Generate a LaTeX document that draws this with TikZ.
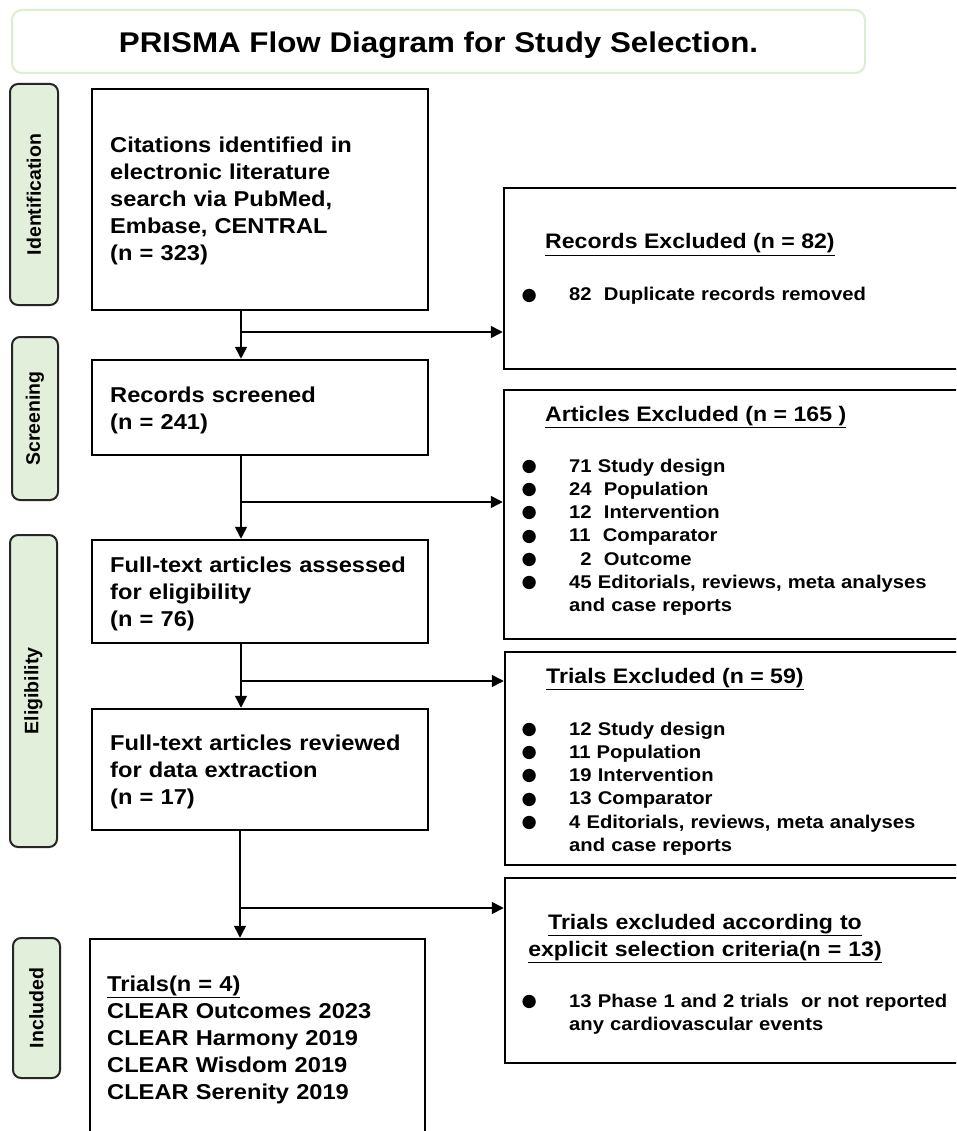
\documentclass[tikz,border=0pt]{standalone}
\usepackage{fontspec}
\setmainfont{Liberation Sans}[FakeStretch=1.1]
\newfontfamily\labfont{Liberation Sans}
\newfontfamily\bulfont{DejaVu Sans}
\usetikzlibrary{arrows.meta,fit}
\definecolor{lgreen}{HTML}{E2EFDA}
\definecolor{tgreen}{HTML}{DDEDD3}
\newcommand\bul{\makebox[46pt][l]{\hspace*{-1.5pt}\smash{\raisebox{0.8pt}{\bulfont\fontsize{17.5}{18}\selectfont ●}}}}
\begin{document}
\begin{tikzpicture}[x=1pt,y=-1pt,
  box/.style={draw, line width=2.5pt, inner sep=0pt},
  sidebox/.style={draw=black!85, line width=2pt, fill=lgreen, rounded corners=8pt, inner sep=0pt},
  titlebox/.style={draw=tgreen, line width=2pt, rounded corners=10pt, inner sep=0pt},
  titletxt/.style={font=\fontsize{28.5}{34}\selectfont\bfseries, inner sep=0pt, anchor=base},
  sidetxt/.style={font=\labfont\fontsize{19.5}{22}\selectfont\bfseries, inner sep=0pt, rotate=90},
  maintxt/.style={font=\fontsize{21.5}{27}\selectfont\bfseries, text width=320pt, align=left, inner sep=0pt, anchor=base west},
  headtxt/.style={font=\fontsize{21}{27}\selectfont\bfseries, inner sep=0pt, anchor=base west},
  lsttxt/.style={font=\fontsize{18.4}{23.3}\selectfont\bfseries, text width=430pt, align=left, inner sep=0pt, anchor=base west},
  arr/.style={line width=1.5pt, -{Triangle[length=12pt,width=12pt]}},
  ln/.style={line width=1.5pt}]
\useasboundingbox (0,0) rectangle (956,1131);
\clip (0,0) rectangle (956,1131);
\fill[white] (0,0) rectangle (956,1131);

% title
\node[titlebox, fit={(12,10) (865,73)}] (title) {};
\node[titletxt] (titlet) at (438.5,53) {PRISMA Flow Diagram for Study Selection.};

% side labels
\node[sidebox, fit={(10,84) (58,305)}] (l1) {};
\node[sidetxt] (l1t) at (l1.center) {Identification};
\node[sidebox, fit={(12,337) (58,500)}] (l2) {};
\node[sidetxt] (l2t) at (l2.center) {Screening};
\node[sidebox, fit={(10,535) (57,847)}] (l3) {};
\node[sidetxt] (l3t) at (l3.center) {Eligibility};
\node[sidebox, fit={(13,938) (60,1078)}] (l4) {};
\node[sidetxt] (l4t) at (l4.center) {Included};

% main boxes
\node[box, fit={(92,89) (428,310)}] (b1) {};
\node[maintxt] (b1t) at (110,153) {Citations identified in\\electronic literature\\search via PubMed,\\Embase, CENTRAL\\(n = 323)};
\node[box, fit={(92,360) (428,455)}] (b2) {};
\node[maintxt] (b2t) at (110,402) {Records screened\\(n = 241)};
\node[box, fit={(92,540) (428,643)}] (b3) {};
\node[maintxt] (b3t) at (110,572) {Full-text articles assessed\\for eligibility\\(n = 76)};
\node[box, fit={(92,709) (428,830)}] (b4) {};
\node[maintxt] (b4t) at (110,750) {Full-text articles reviewed\\for data extraction\\(n = 17)};
\node[box, fit={(90,939) (425,1150)}] (b5) {};
\node[maintxt] (b5t) at (107,991) {\underline{Trials(n = 4)}\\CLEAR Outcomes 2023\\CLEAR Harmony 2019\\CLEAR Wisdom 2019\\CLEAR Serenity 2019};

% right boxes
\node[box, fit={(504,188) (975,369)}] (r1) {};
\node[headtxt] (r1h) at (545,249) {\underline{Records Excluded (n = 82)}};
\node[lsttxt] (r1l) at (523,301) {\bul 82\ \ Duplicate records removed};

\node[box, fit={(504,390) (975,639)}] (r2) {};
\node[headtxt] (r2h) at (545,421) {\underline{Articles Excluded (n = 165 )}};
\node[lsttxt] (r2l) at (523,472) {\bul 71 Study design\\\bul 24\ \ Population\\\bul 12\ \ Intervention\\\bul 11\ \ Comparator\\\bul \hphantom{0}2\ \ Outcome\\\bul 45 Editorials, reviews, meta analyses\\\hspace*{46pt}and case reports};

\node[box, fit={(505,652) (975,865)}] (r3) {};
\node[headtxt] (r3h) at (546,683) {\underline{Trials Excluded (n = 59)}};
\node[lsttxt] (r3l) at (523,735) {\bul 12 Study design\\\bul 11 Population\\\bul 19 Intervention\\\bul 13 Comparator\\\bul 4 Editorials, reviews, meta analyses\\\hspace*{46pt}and case reports};

\node[box, fit={(505,878) (975,1063)}] (r4) {};
\node[headtxt, text width=400pt, align=center, anchor=base] (r4h) at (705,929) {\underline{Trials excluded according to}\\\underline{explicit selection criteria(n = 13)}};
\node[lsttxt] (r4l) at (523,1007) {\bul 13 Phase 1 and 2 trials\ \ or not reported\\\hspace*{46pt}any cardiovascular events};

% connectors
\coordinate (j1) at (241,332);
\coordinate (j2) at (241,502);
\coordinate (j3) at (241,681);
\coordinate (j4) at (240,908);
\draw[arr] (j1 |- b1.south) -- (j1 |- b2.north);
\draw[arr] (j1) -- (j1 -| r1.west);
\draw[arr] (j2 |- b2.south) -- (j2 |- b3.north);
\draw[arr] (j2) -- (j2 -| r2.west);
\draw[arr] (j3 |- b3.south) -- (j3 |- b4.north);
\draw[arr] (j3) -- (j3 -| r3.west);
\draw[arr] (j4 |- b4.south) -- (j4 |- b5.north);
\draw[arr] (j4) -- (j4 -| r4.west);
\end{tikzpicture}
\end{document}
